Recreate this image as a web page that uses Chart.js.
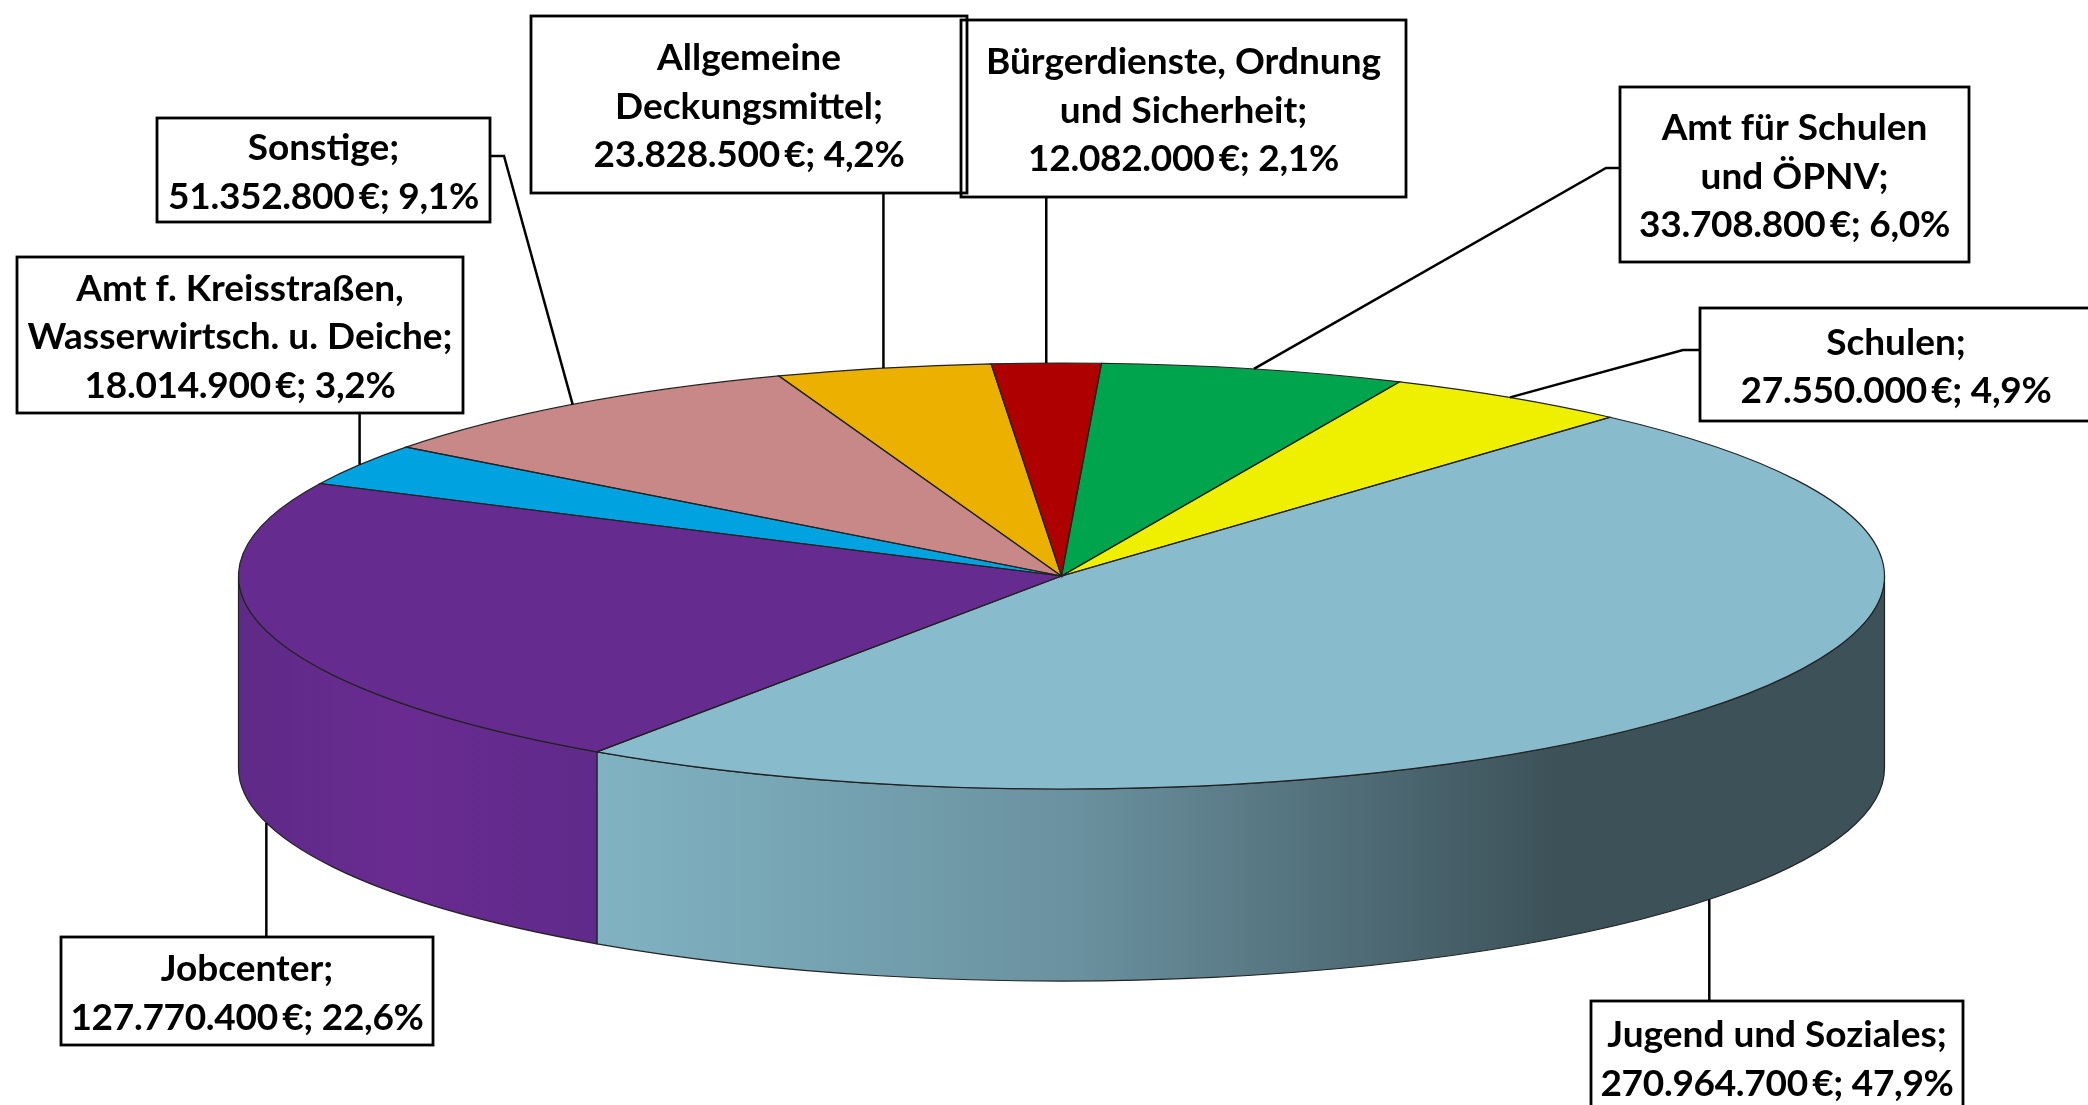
<!DOCTYPE html>
<html lang="de">
<head>
<meta charset="utf-8">
<title>Kreisdiagramm Budget</title>
<script src="https://cdn.jsdelivr.net/npm/chart.js@4"></script>
<style>
	html, body { margin: 0; padding: 0; background: #fff; overflow: hidden; }
	canvas { display: block; }
</style>
</head>
<body>
<canvas id="grafico" width="2088" height="1105"></canvas>
<script>
// Dati
const categories = ['Jugend und Soziales', 'Jobcenter', 'Amt f. Kreisstraßen, Wasserwirtsch. u. Deiche', 'Sonstige', 'Allgemeine Deckungsmittel', 'Bürgerdienste, Ordnung und Sicherheit', 'Amt für Schulen und ÖPNV', 'Schulen'];
const values = [270964700, 127770400, 18014900, 51352800, 23828500, 12082000, 33708800, 27550000];
const percents = ['47,9%', '22,6%', '3,2%', '9,1%', '4,2%', '2,1%', '6,0%', '4,9%'];
const nameLines = [
	['Jugend und Soziales;'],
	['Jobcenter;'],
	['Amt f. Kreisstraßen,', 'Wasserwirtsch. u. Deiche;'],
	['Sonstige;'],
	['Allgemeine', 'Deckungsmittel;'],
	['Bürgerdienste, Ordnung', 'und Sicherheit;'],
	['Amt für Schulen', 'und ÖPNV;'],
	['Schulen;']
];
const topColors = ['#88bbcc', '#662b8f', '#00a2e0', '#c88887', '#ecb000', '#af0000', '#00a44d', '#efef00'];

// Geometria della torta in prospettiva
const pie = { cx: 1061.5, cy: 576, rx: 823, ry: 213, depth: 192, rotation: 41.8 };
// Riquadri etichette: x, y, larghezza, altezza
const boxes = [
	[1591, 1001, 372, 112],
	[61, 937, 372, 108],
	[17, 257, 446, 156],
	[157, 118, 333, 104],
	[531, 16, 436, 177],
	[961, 20, 445, 177],
	[1620, 87, 349, 175],
	[1700, 308, 392, 113]
];
// Gomito della linea guida (null = linea verticale)
const elbows = [null, null, null, [504, 156], null, null, [1606, 168], [1683, 350]];
const FONT = 'bold 37px Lato';
const LINE_H = 48.5;

function sideFill(ctx, i){
	if(i === 0){
		const g = ctx.createLinearGradient(595, 0, 1560, 0);
		g.addColorStop(0, '#80b3c2');
		g.addColorStop(0.5, '#6a919f');
		g.addColorStop(1, '#3c5158');
		return g;
	}
	const g = ctx.createLinearGradient(237, 0, 595, 0);
	g.addColorStop(0, '#5e2a87');
	g.addColorStop(0.45, '#692b91');
	g.addColorStop(1, '#5f2a8a');
	return g;
}

function drawWalls(chart){
	const ctx = chart.ctx;
	ctx.save();
	ctx.lineWidth = 1.2;
	ctx.strokeStyle = '#222';
	chart.getDatasetMeta(0).data.forEach((el, i) => {
		const p = el.getProps(['startAngle', 'endAngle']);
		[0, Math.PI * 2, -Math.PI * 2].forEach(k => {
			const s = Math.max(p.startAngle + k, 0);
			const e = Math.min(p.endAngle + k, Math.PI);
			if(e <= s) return;
			ctx.beginPath();
			ctx.ellipse(pie.cx, pie.cy, pie.rx, pie.ry, 0, s, e);
			ctx.ellipse(pie.cx, pie.cy + pie.depth, pie.rx, pie.ry, 0, e, s, true);
			ctx.closePath();
			ctx.fillStyle = sideFill(ctx, i);
			ctx.fill();
			ctx.stroke();
		});
	});
	ctx.restore();
}

function drawOutlines(chart){
	const ctx = chart.ctx;
	ctx.save();
	ctx.lineWidth = 1.2;
	ctx.strokeStyle = '#222';
	chart.getDatasetMeta(0).data.forEach(el => {
		const p = el.getProps(['startAngle', 'endAngle']);
		ctx.beginPath();
		ctx.moveTo(pie.cx, pie.cy);
		ctx.ellipse(pie.cx, pie.cy, pie.rx, pie.ry, 0, p.startAngle, p.endAngle);
		ctx.closePath();
		ctx.stroke();
	});
	ctx.restore();
}

function drawLabels(chart){
	const ctx = chart.ctx;
	const arcs = chart.getDatasetMeta(0).data;
	ctx.save();
	// linee guida
	ctx.strokeStyle = '#000';
	ctx.lineWidth = 2.5;
	arcs.forEach((el, i) => {
		const p = el.getProps(['startAngle', 'endAngle']);
		const mid = (p.startAngle + p.endAngle) / 2;
		const sin = Math.sin(mid);
		const px = pie.cx + pie.rx * Math.cos(mid);
		const py = pie.cy + pie.ry * sin + (sin > 0 ? pie.depth : 0);
		const b = boxes[i];
		ctx.beginPath();
		ctx.moveTo(px, py);
		if(elbows[i]){
			const side = elbows[i][0] < b[0] ? b[0] : b[0] + b[2];
			ctx.lineTo(elbows[i][0], elbows[i][1]);
			ctx.lineTo(side, elbows[i][1]);
		}else{
			ctx.lineTo(px, py < b[1] ? b[1] : b[1] + b[3]);
		}
		ctx.stroke();
	});
	// riquadri: prima tutti i fondi, poi i bordi, cosi' si vedono anche dove si sovrappongono
	ctx.fillStyle = '#fff';
	boxes.forEach(b => ctx.fillRect(b[0], b[1], b[2], b[3]));
	ctx.lineWidth = 2.8;
	boxes.forEach(b => ctx.strokeRect(b[0], b[1], b[2], b[3]));
	// testo
	ctx.fillStyle = '#000';
	ctx.font = FONT;
	ctx.textAlign = 'center';
	ctx.textBaseline = 'middle';
	values.forEach((v, i) => {
		const names = nameLines[i];
		const valueLine = v.toLocaleString('de-DE') + '\u2009€; ' + percents[i];
		const lines = names.concat(valueLine);
		const b = boxes[i];
		const top = b[1] + b[3] / 2 - (lines.length - 1) * LINE_H / 2 + 2.5;
		lines.forEach((t, j) => {
			// la riga dei valori nel riferimento e' piu' stretta
			ctx.letterSpacing = j === names.length ? '-0.3px' : '0px';
			ctx.fillText(t, b[0] + b[2] / 2, top + j * LINE_H);
		});
	});
	ctx.restore();
}

const pie3d = {
	id: 'pie3d',
	beforeDatasetsDraw(chart){
		drawWalls(chart);
		// La torta di Chart.js e' un cerchio: la schiaccio in ellisse
		const el = chart.getDatasetMeta(0).data[0];
		const p = el.getProps(['x', 'y', 'outerRadius']);
		const ctx = chart.ctx;
		ctx.save();
		ctx.translate(pie.cx, pie.cy);
		ctx.scale(pie.rx / p.outerRadius, pie.ry / p.outerRadius);
		ctx.translate(-p.x, -p.y);
	},
	afterDatasetsDraw(chart){
		chart.ctx.restore();
		drawOutlines(chart);
		drawLabels(chart);
	}
};

new Chart(document.getElementById('grafico').getContext('2d'), {
	type: 'pie',
	data: {
		labels: categories,
		datasets: [{
			data: values,
			backgroundColor: topColors,
			borderWidth: 0,
			clip: false
		}]
	},
	options: {
		responsive: false,
		animation: false,
		rotation: pie.rotation,
		plugins: {
			legend: { display: false },
			tooltip: { enabled: false }
		}
	},
	plugins: [pie3d]
});
</script>
</body>
</html>
